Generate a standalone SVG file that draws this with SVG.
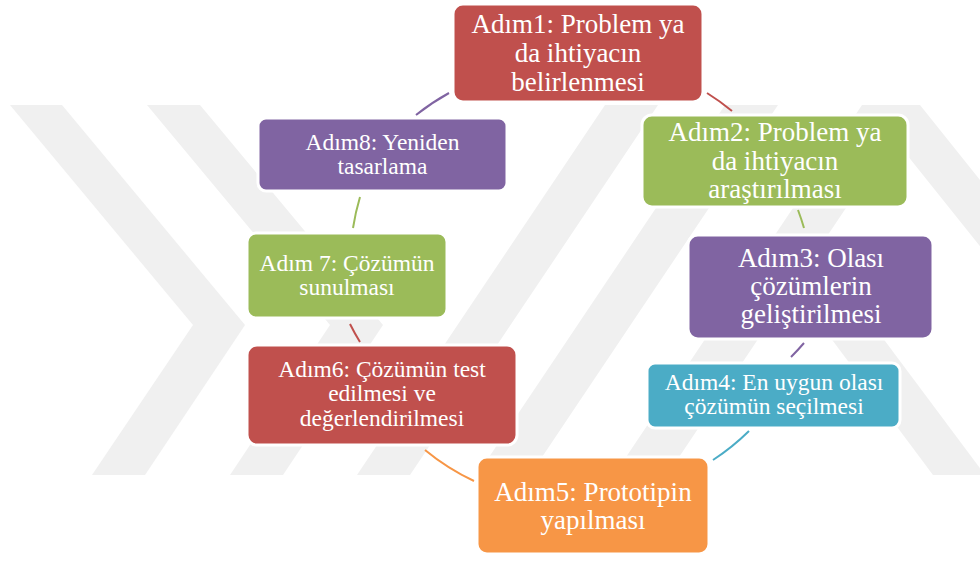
<svg xmlns="http://www.w3.org/2000/svg" width="980" height="561" viewBox="0 0 980 561">
<style>
.wm{fill:#f0f0f0}
.box{stroke:#ffffff;stroke-width:3}
.t{font-family:"Liberation Serif","Times New Roman",serif;fill:#ffffff;text-anchor:middle}
.big{font-size:27px}
.small{font-size:23.5px}
.c{fill:none;stroke-width:2}
</style>
<rect width="980" height="561" fill="#ffffff"/>
<g id="watermark">
<polygon class="wm" points="10,105 62,105 245,325 145,475 92,475 193,325"/>
<polygon class="wm" points="147,105 200,105 383,325 283,475 230,475 330,325"/>
<polygon class="wm" points="357,475 410,475 658,105 605,105"/>
<polygon class="wm" points="477,475 530,475 778,105 725,105"/>
<polygon class="wm" points="614,475 667,475 915,105 862,105"/>
<polygon class="wm" points="867,105 920,105 1216,475 1163,475"/>
<polygon class="wm" points="780,270 832,270 985,475 933,475"/>
</g>
<g id="connectors">
<path class="c" d="M707,93 A235,235 0 0 1 732,111" stroke="#c0504d"/>
<path class="c" d="M798,210 A235,235 0 0 1 804,228" stroke="#9bbb59"/>
<path class="c" d="M804,343 A235,235 0 0 1 791,357" stroke="#8064a2"/>
<path class="c" d="M749,431 A230,230 0 0 1 713,460" stroke="#4bacc6"/>
<path class="c" d="M474,481 A230,230 0 0 1 425,450" stroke="#f79646"/>
<path class="c" d="M360,342 A235,235 0 0 1 350,324" stroke="#c0504d"/>
<path class="c" d="M353,228 A235,235 0 0 1 360,197" stroke="#9bbb59"/>
<path class="c" d="M416,115 A235,235 0 0 1 449,93" stroke="#8064a2"/>
</g>
<g id="node1">
<rect class="box" x="453" y="4" width="250" height="98" rx="10" fill="#c0504d"/>
<text class="t big" x="578" y="33.3">Adım1: Problem ya</text>
<text class="t big" x="578" y="62">da ihtiyacın</text>
<text class="t big" x="578" y="90.7">belirlenmesi</text>
</g>
<g id="node2">
<rect class="box" x="642" y="115" width="266" height="92" rx="10" fill="#9bbb59"/>
<text class="t big" x="775" y="141">Adım2: Problem ya</text>
<text class="t big" x="775" y="169.5">da ihtiyacın</text>
<text class="t big" x="775" y="198">araştırılması</text>
</g>
<g id="node3">
<rect class="box" x="688" y="235" width="245" height="104" rx="10" fill="#8064a2"/>
<text class="t big" x="811" y="266.7">Adım3: Olası</text>
<text class="t big" x="811" y="295">çözümlerin</text>
<text class="t big" x="811" y="323.3">geliştirilmesi</text>
</g>
<g id="node4">
<rect class="box" x="647" y="363" width="253" height="65" rx="8" fill="#4bacc6"/>
<text class="t small" x="774" y="390">Adım4: En uygun olası</text>
<text class="t small" x="774" y="414">çözümün seçilmesi</text>
</g>
<g id="node5">
<rect class="box" x="477" y="457" width="232" height="97" rx="10" fill="#f79646"/>
<text class="t big" x="593" y="500.5">Adım5: Prototipin</text>
<text class="t big" x="593" y="529">yapılması</text>
</g>
<g id="node6">
<rect class="box" x="247" y="345" width="270" height="100" rx="10" fill="#c0504d"/>
<text class="t small" x="382" y="376.5">Adım6: Çözümün test</text>
<text class="t small" x="382" y="401">edilmesi ve</text>
<text class="t small" x="382" y="425.5">değerlendirilmesi</text>
</g>
<g id="node7">
<rect class="box" x="247" y="233" width="200" height="85" rx="9" fill="#9bbb59"/>
<text class="t small" x="347" y="270.7">Adım 7: Çözümün</text>
<text class="t small" x="347" y="295">sunulması</text>
</g>
<g id="node8">
<rect class="box" x="258" y="118" width="249" height="73" rx="8" fill="#8064a2"/>
<text class="t small" x="382.5" y="150">Adım8: Yeniden</text>
<text class="t small" x="382.5" y="174">tasarlama</text>
</g>
</svg>
